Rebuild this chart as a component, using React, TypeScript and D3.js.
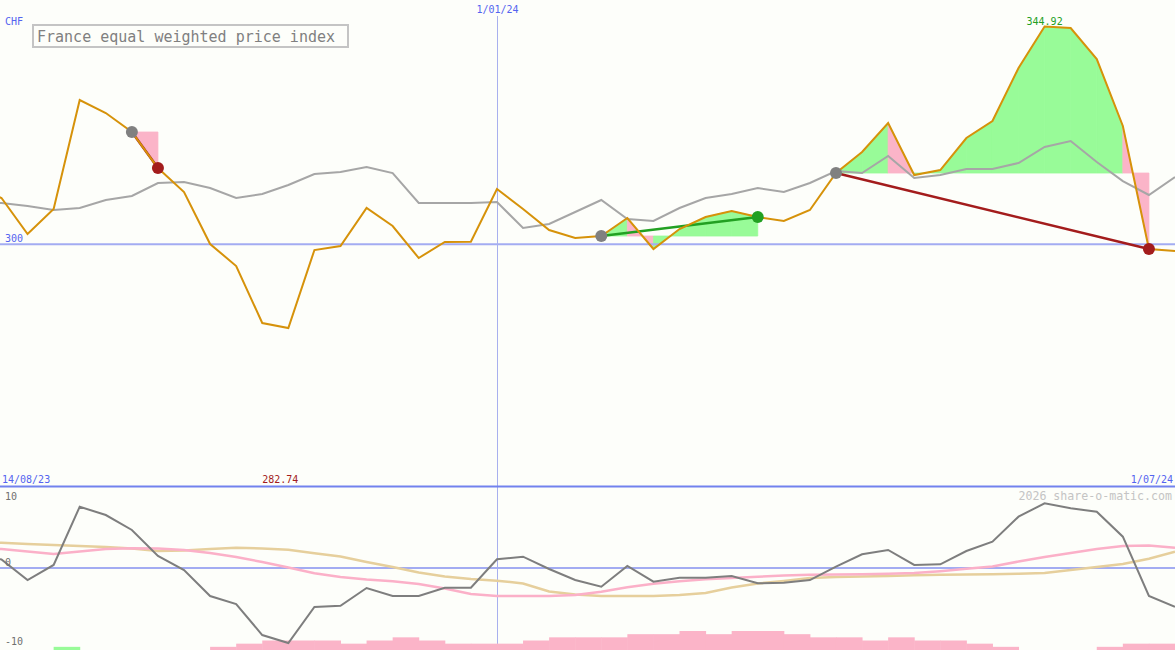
import { useEffect, useRef } from "react";
import * as d3 from "d3";

// weekly closes, 14/08/23 .. 1/07/24
const weeks = [
	"2023-08-14", "2023-08-21", "2023-08-28", "2023-09-04", "2023-09-11", "2023-09-18", "2023-09-25",
	"2023-10-02", "2023-10-09", "2023-10-16", "2023-10-23", "2023-10-30", "2023-11-06", "2023-11-13",
	"2023-11-20", "2023-11-27", "2023-12-04", "2023-12-11", "2023-12-18", "2023-12-25", "2024-01-01",
	"2024-01-08", "2024-01-15", "2024-01-22", "2024-01-29", "2024-02-05", "2024-02-12", "2024-02-19",
	"2024-02-26", "2024-03-04", "2024-03-11", "2024-03-18", "2024-03-25", "2024-04-01", "2024-04-08",
	"2024-04-15", "2024-04-22", "2024-04-29", "2024-05-06", "2024-05-13", "2024-05-20", "2024-05-27",
	"2024-06-03", "2024-06-10", "2024-06-17", "2024-06-24", "2024-07-01"
];

const price = [
	312.2, 309.55, 302.12, 307.28, 329.76, 327.08, 323.16, 315.74, 310.79, 300.06, 295.52, 283.77,
	282.74, 298.82, 299.65, 307.49, 303.77, 297.17, 300.5, 300.55, 311.4, 307.28, 302.95, 301.3,
	301.71, 305.42, 299.03, 303.16, 305.63, 306.87, 305.63, 304.81, 307.07, 314.7, 319.03, 325.02,
	314.29, 315.32, 321.92, 325.43, 336.36, 344.92, 344.61, 338.21, 324.4, 299.03, 298.62
];

const average = [
	308.72, 308.52, 307.9, 307.07, 307.49, 309.14, 309.96, 312.64, 312.85, 311.61, 309.55, 310.37,
	312.23, 314.5, 314.91, 315.94, 314.7, 308.52, 308.52, 308.52, 308.72, 303.36, 304.19, 306.66,
	309.14, 305.22, 304.81, 307.49, 309.55, 310.37, 311.61, 310.79, 312.64, 315.12, 314.7, 318.21,
	313.67, 314.29, 315.53, 315.53, 316.77, 320.07, 321.3, 316.97, 313.05, 310.17, 313.88
];

const momentum = [
	1.4, 1.2, -1.67, 0.42, 8.51, 7.36, 5.28, 1.67, -0.28, -3.89, -5.0, -9.31, -10.42, -5.42, -5.24,
	-2.78, -3.89, -3.89, -2.74, -2.74, 1.21, 1.57, -0.14, -1.67, -2.6, 0.28, -1.9, -1.35, -1.35, -1.11,
	-2.13, -2.04, -1.67, 0.18, 1.9, 2.5, 0.42, 0.51, 2.36, 3.65, 7.13, 8.99, 8.29, 7.82, 4.35, -3.89, -5.38
];

const signalFast = [
	2.85, 2.64, 2.29, 1.94, 2.29, 2.64, 2.74, 2.71, 2.5, 2.08, 1.53, 0.83, 0.07, -0.74, -1.25, -1.6,
	-1.83, -2.22, -2.85, -3.61, -3.89, -3.89, -3.89, -3.75, -3.29, -2.68, -2.18, -1.83, -1.57, -1.39,
	-1.21, -1.04, -0.94, -0.9, -0.86, -0.81, -0.69, -0.44, -0.11, 0.21, 0.9, 1.53, 2.08, 2.64, 3.06, 3.13, 2.82
];

const signalSlow = [
	3.68, 3.5, 3.33, 3.19, 3.06, 2.92, 2.71, 2.36, 2.43, 2.64, 2.81, 2.71, 2.53, 2.06, 1.6, 0.83, 0.14,
	-0.63, -1.18, -1.53, -1.76, -2.15, -3.26, -3.68, -3.89, -3.89, -3.89, -3.75, -3.47, -2.71, -2.15,
	-1.81, -1.39, -1.25, -1.18, -1.11, -1.0, -0.94, -0.9, -0.86, -0.81, -0.69, -0.28, 0.14, 0.56, 1.29, 2.26
];

// one bar per week, drawn from that week to the next; positive = green, negative = pink
const strength = [
	0, 0, 0, 1, 0, 0, 0, 0, 0, -1, -2, -3, -3, -3, -2, -3, -4, -3, -2, -2, -2, -3, -4, -4, -4, -5, -5,
	-6, -5, -6, -6, -5, -4, -4, -3, -4, -3, -3, -2, -1, 0, 0, 0, -1, -2, -2
];

const trades = [
	{ entry: 6, exit: 7 },
	{ entry: 24, exit: 30 },
	{ entry: 33, exit: 45 }
];

const title = "France equal weighted price index";
const currency = "CHF";
const priceTick = 300;
const momentumTicks = [10, 0, -10];
const markerDate = "2024-01-01";

const font = "DejaVu Sans Mono, monospace";
const blue = "#5464f0";
const green = "#98fb98";
const pink = "#fbb4c8";
const winColor = "#22a022";
const lossColor = "#a31c1c";

const fmt = (d: Date) => `${d.getUTCDate()}/${d3.utcFormat("%m/%y")(d)}`;

const Chart = () => {
	const ref = useRef<HTMLDivElement>(null);

	useEffect(() => {
		if (!ref.current) return;
		const width = 1175;
		const height = 650;
		const parse = d3.utcParse("%Y-%m-%d");
		const dates = weeks.map((w) => parse(w) as Date);

		const svg = d3
			.select(ref.current)
			.append("svg")
			.attr("width", width)
			.attr("height", height)
			.style("display", "block")
			.attr("font-family", font);

		svg.append("rect").attr("width", width).attr("height", height).attr("fill", "#fdfefa");

		const x = d3.scaleUtc().domain([dates[0], dates[dates.length - 1]]).range([-24.6, width]);
		const y = d3.scaleLinear().domain([282.74, 344.92]).range([328, 26.5]);
		const ym = d3.scaleLinear().domain([-10, 10]).range([640, 496]);
		const yb = d3.scaleLinear().domain([0, 6]).range([height, 631]);

		// trade fills
		const fills = svg.append("g");
		trades.forEach((t) => {
			const level = y(price[t.entry]);
			for (let k = t.entry; k < t.exit; k++) {
				const pts: [number, number][] = [
					[x(dates[k]), level],
					[x(dates[k]), y(price[k])],
					[x(dates[k + 1]), y(price[k + 1])],
					[x(dates[k + 1]), level]
				];
				const c = price[k + 1] >= price[t.entry] ? green : pink;
				fills
					.append("path")
					.attr("d", d3.line()(pts) + "Z")
					.attr("fill", c)
					.attr("stroke", c)
					.attr("stroke-width", 0.8);
			}
		});

		// grid
		svg
			.append("line")
			.attr("x1", 0)
			.attr("x2", width)
			.attr("y1", y(priceTick))
			.attr("y2", y(priceTick))
			.attr("stroke", "#a3acf2")
			.attr("stroke-width", 2);

		const mx = Math.round(x(parse(markerDate) as Date)) + 0.5;
		svg
			.append("line")
			.attr("x1", mx)
			.attr("x2", mx)
			.attr("y1", 16)
			.attr("y2", height)
			.attr("stroke", "#a8b0ee")
			.attr("stroke-width", 1);

		const line = (vals: number[], scale: d3.ScaleLinear<number, number>) =>
			d3
				.line<number>()
				.x((_, i) => x(dates[i]))
				.y((v) => scale(v))(vals);

		svg
			.append("path")
			.attr("d", line(average, y))
			.attr("fill", "none")
			.attr("stroke", "#a6a6a6")
			.attr("stroke-width", 2);

		// trade lines sit under the price line
		trades.forEach((t) => {
			const win = price[t.exit] >= price[t.entry];
			svg
				.append("line")
				.attr("x1", x(dates[t.entry]))
				.attr("y1", y(price[t.entry]))
				.attr("x2", x(dates[t.exit]))
				.attr("y2", y(price[t.exit]))
				.attr("stroke", win ? winColor : lossColor)
				.attr("stroke-width", 2.5);
		});

		svg
			.append("path")
			.attr("d", line(price, y))
			.attr("fill", "none")
			.attr("stroke", "#d6920a")
			.attr("stroke-width", 2);

		trades.forEach((t) => {
			const win = price[t.exit] >= price[t.entry];
			svg
				.append("circle")
				.attr("cx", x(dates[t.entry]))
				.attr("cy", y(price[t.entry]))
				.attr("r", 6)
				.attr("fill", "#808080");
			svg
				.append("circle")
				.attr("cx", x(dates[t.exit]))
				.attr("cy", y(price[t.exit]))
				.attr("r", 6)
				.attr("fill", win ? winColor : lossColor);
		});

		// labels, upper panel
		svg.append("text").attr("x", 5).attr("y", 24.5).attr("font-size", 10).attr("fill", blue).text(currency);
		svg
			.append("text")
			.attr("x", 5)
			.attr("y", y(priceTick) - 2.5)
			.attr("font-size", 10)
			.attr("fill", blue)
			.text(`${priceTick}`);
		svg
			.append("text")
			.attr("x", mx)
			.attr("y", 13)
			.attr("text-anchor", "middle")
			.attr("font-size", 10)
			.attr("fill", blue)
			.text(fmt(parse(markerDate) as Date));

		svg
			.append("rect")
			.attr("x", 33)
			.attr("y", 25)
			.attr("width", 315)
			.attr("height", 22)
			.attr("fill", "none")
			.attr("stroke", "#c4c4c4")
			.attr("stroke-width", 2);
		svg
			.append("text")
			.attr("x", 37)
			.attr("y", 41.5)
			.attr("font-size", 15)
			.attr("fill", "#808080")
			.text(title);

		const maxI = d3.maxIndex(price);
		const minI = d3.minIndex(price);
		svg
			.append("text")
			.attr("x", x(dates[maxI]))
			.attr("y", y(price[maxI]) - 2)
			.attr("text-anchor", "middle")
			.attr("font-size", 10)
			.attr("fill", winColor)
			.text(price[maxI].toFixed(2));

		// separator + date range
		svg
			.append("line")
			.attr("x1", 0)
			.attr("x2", width)
			.attr("y1", 486.5)
			.attr("y2", 486.5)
			.attr("stroke", "#7282ee")
			.attr("stroke-width", 2);
		svg.append("text").attr("x", 2).attr("y", 482.5).attr("font-size", 10).attr("fill", blue).text(fmt(dates[0]));
		svg
			.append("text")
			.attr("x", width - 2)
			.attr("y", 482.5)
			.attr("text-anchor", "end")
			.attr("font-size", 10)
			.attr("fill", blue)
			.text(fmt(dates[dates.length - 1]));
		svg
			.append("text")
			.attr("x", x(dates[minI]) - 8)
			.attr("y", 482.5)
			.attr("text-anchor", "middle")
			.attr("font-size", 10)
			.attr("fill", lossColor)
			.text(price[minI].toFixed(2));

		// lower panel
		svg
			.append("g")
			.selectAll("rect")
			.data(strength.map((v, i) => ({ v, i })).filter((d) => d.v !== 0))
			.join("rect")
			.attr("x", (d) => x(dates[d.i]))
			.attr("width", (d) => x(dates[d.i + 1]) - x(dates[d.i]) + 0.5)
			.attr("y", (d) => yb(Math.abs(d.v)))
			.attr("height", (d) => height - yb(Math.abs(d.v)))
			.attr("fill", (d) => (d.v > 0 ? green : pink));

		svg
			.append("line")
			.attr("x1", 0)
			.attr("x2", width)
			.attr("y1", ym(0))
			.attr("y2", ym(0))
			.attr("stroke", "#a3acf2")
			.attr("stroke-width", 2);

		svg
			.append("path")
			.attr("d", line(signalSlow, ym))
			.attr("fill", "none")
			.attr("stroke", "#e6cf9c")
			.attr("stroke-width", 2.5);
		svg
			.append("path")
			.attr("d", line(signalFast, ym))
			.attr("fill", "none")
			.attr("stroke", "#fbb0c8")
			.attr("stroke-width", 2.5);
		svg
			.append("path")
			.attr("d", line(momentum, ym))
			.attr("fill", "none")
			.attr("stroke", "#7e7e7e")
			.attr("stroke-width", 2);

		svg
			.selectAll("text.mtick")
			.data(momentumTicks)
			.join("text")
			.attr("class", "mtick")
			.attr("x", 5)
			.attr("y", (v) => (v === 10 ? 500 : v === 0 ? ym(0) - 2.5 : 645))
			.attr("font-size", 10)
			.attr("fill", "#707070")
			.text((v) => `${v}`);

		svg
			.append("text")
			.attr("x", width - 3)
			.attr("y", 500)
			.attr("text-anchor", "end")
			.attr("font-size", 11.6)
			.attr("fill", "#c4c4c4")
			.text("2026 share-o-matic.com");

		return () => {
			svg.remove();
		};
	}, []);

	return <div ref={ref} style={{ position: "absolute", left: 0, top: 0 }} />;
};

export default function App() {
	return <Chart />;
}
